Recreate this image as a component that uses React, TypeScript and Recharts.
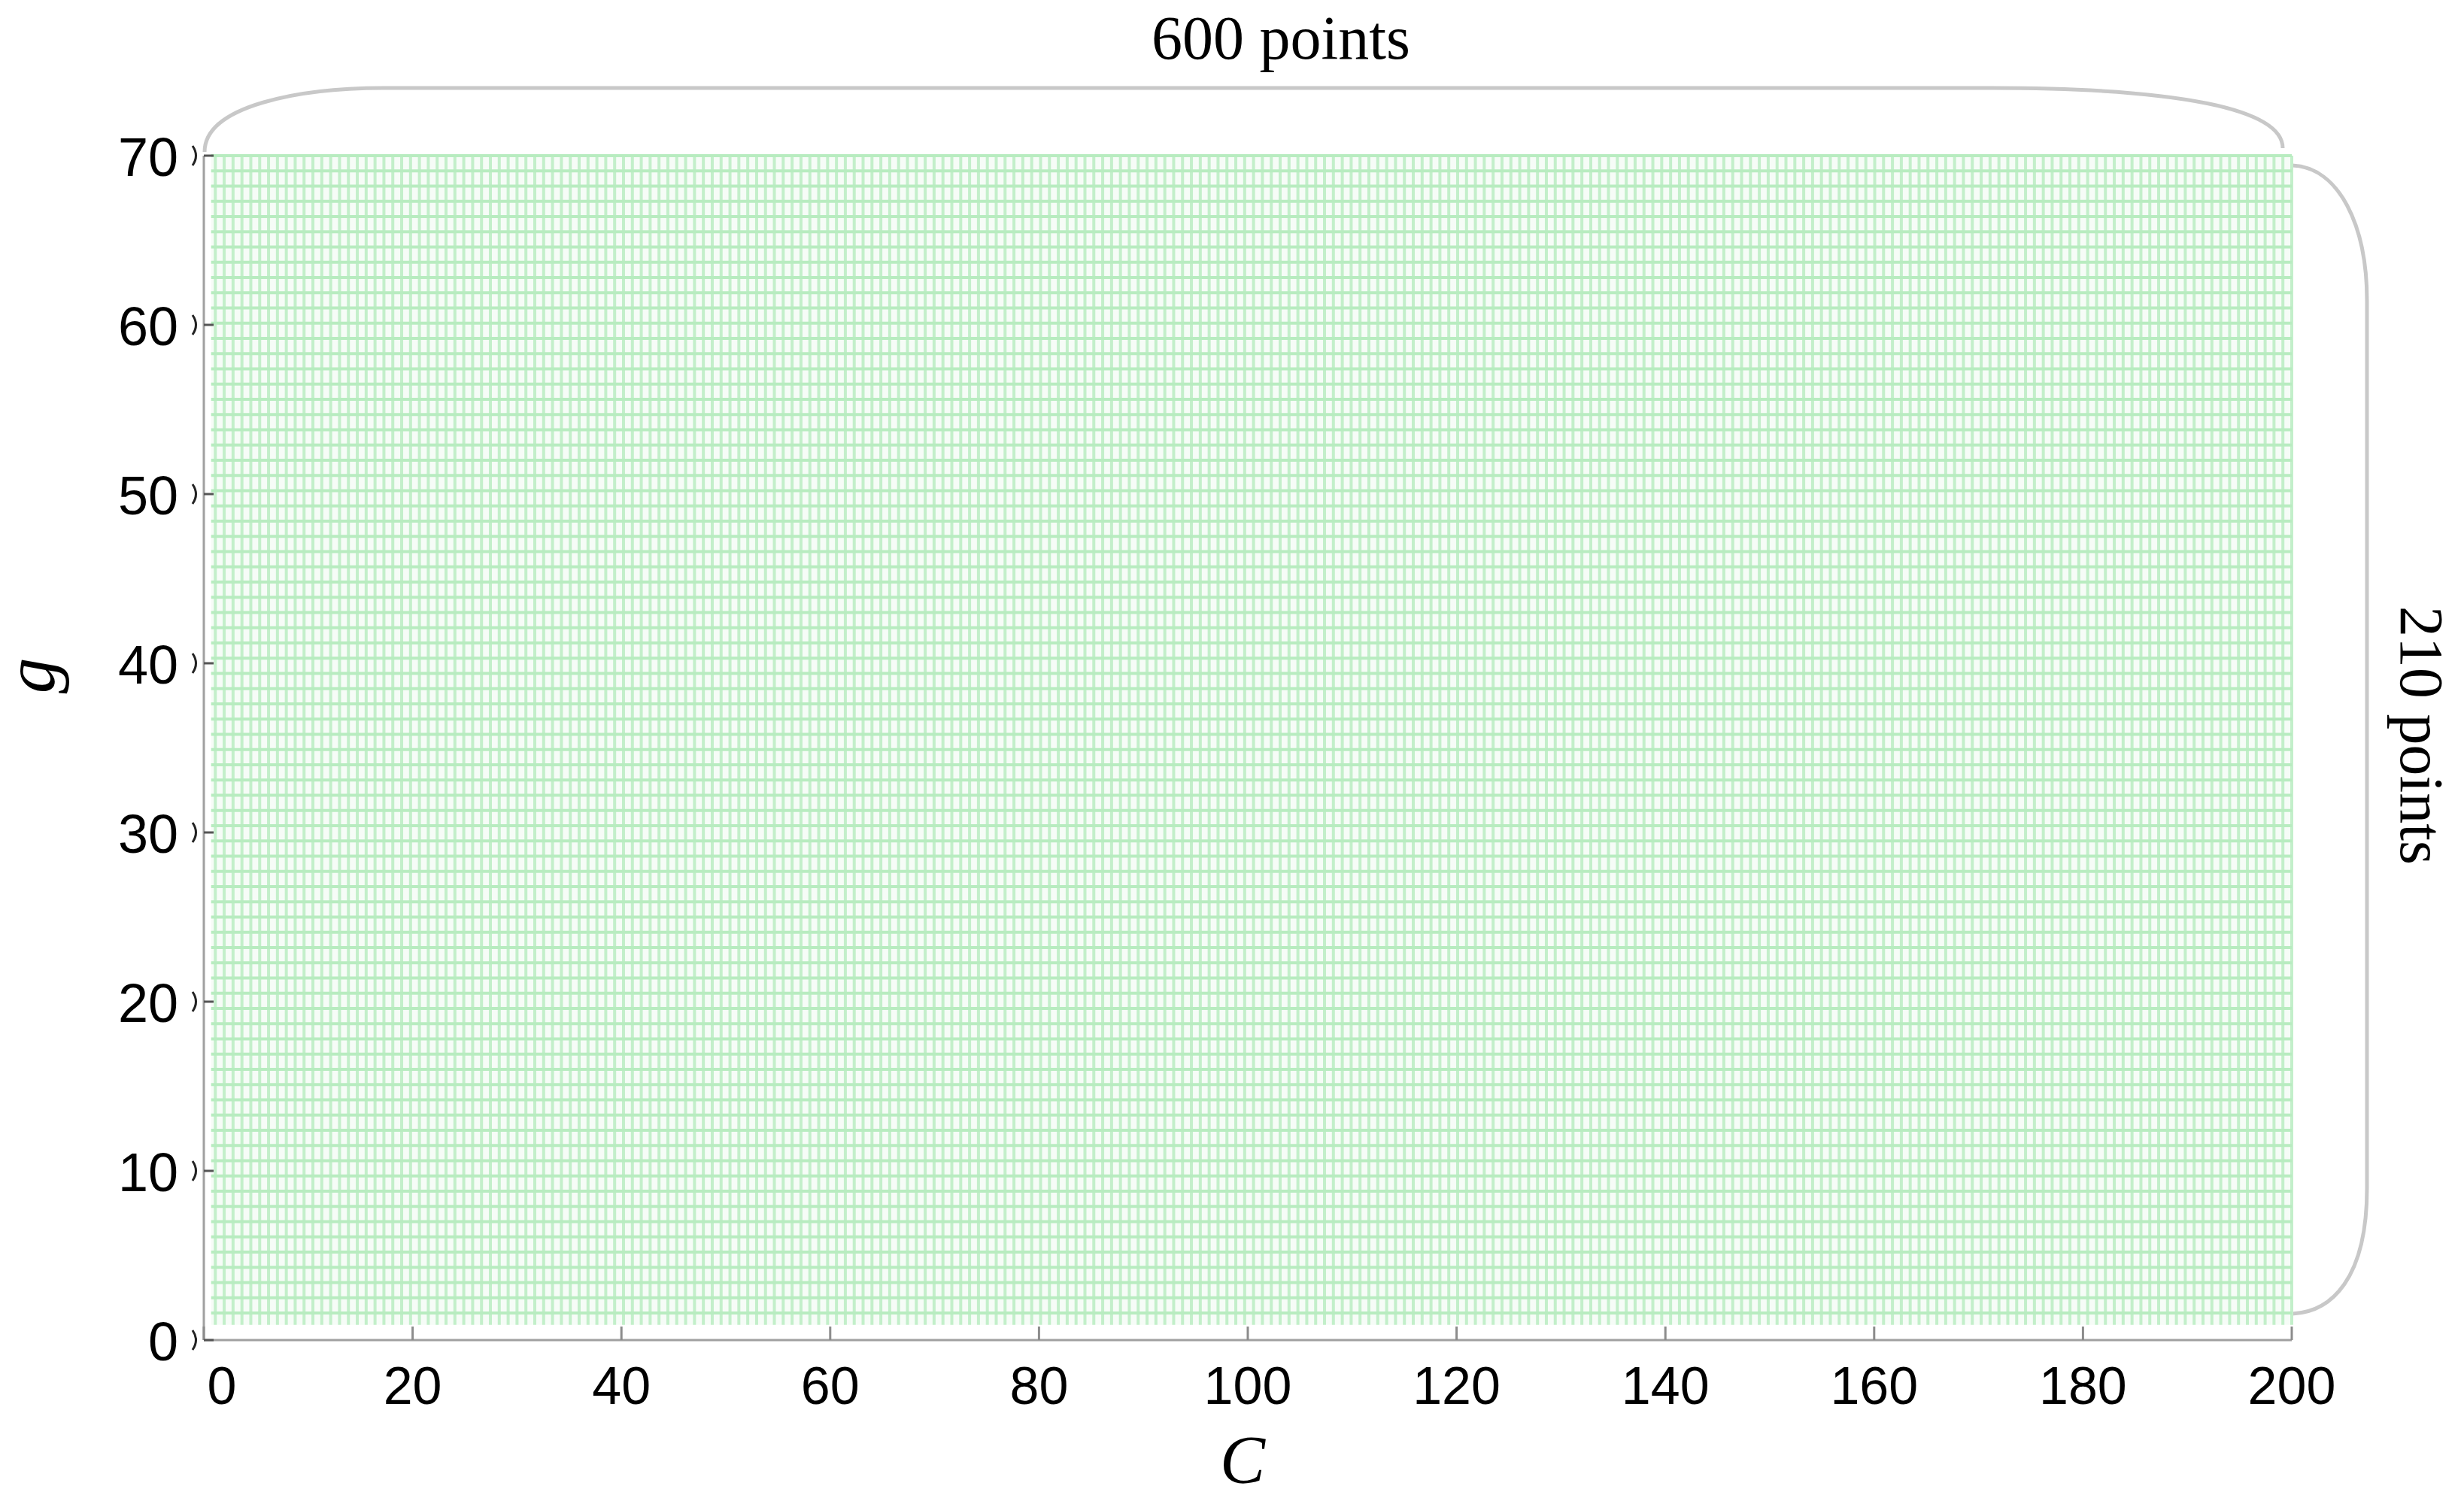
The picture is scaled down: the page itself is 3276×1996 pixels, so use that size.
import React from 'react';
import { ComposedChart, XAxis, YAxis, ReferenceLine, ReferenceArea } from 'recharts';

// Axis ticks
const cTicks = [0, 20, 40, 60, 80, 100, 120, 140, 160, 180, 200];
const gTicks = [0, 10, 20, 30, 40, 50, 60, 70];

// Parameter grid (visible grid lines of the C x g search grid)
const cMax = 200;
const gMax = 70;
const cStep = 0.85;
const gStep = 0.9;
const cGridLines = Array.from({ length: 235 }, (_, k) => +(cMax - k * cStep).toFixed(3));
const gGridLines = Array.from({ length: 77 }, (_, k) => +(gMax - k * gStep).toFixed(3));
const cGridMin = cGridLines[cGridLines.length - 1];
const gGridMin = gGridLines[gGridLines.length - 1];

// Annotation texts
const topLabel = '600 points';
const sideLabel = '210 points';
const xLabel = 'C';
const yLabel = 'g';

const W = 3260;
const H = 1980;
const SANS = 'Liberation Sans, Arial, sans-serif';
const SERIF = 'Liberation Serif, Times New Roman, serif';

const XTick = (props: any) => {
  const { x, y, payload } = props;
  const dx = payload.value === 0 ? 24 : 0;
  return (
    <g>
      <line x1={x} y1={y} x2={x} y2={y - 18} stroke="#8c8c8c" strokeWidth={3} />
      <text x={x + dx} y={y + 85} textAnchor="middle" fontSize={70} fontFamily={SANS} fill="#000">
        {payload.value}
      </text>
    </g>
  );
};

const YTick = (props: any) => {
  const { x, y, payload } = props;
  return (
    <g>
      <line x1={x} y1={y} x2={x + 13} y2={y} stroke="#555" strokeWidth={3} />
      <path d={`M ${x - 15} ${y - 13} Q ${x - 6} ${y} ${x - 15} ${y + 13}`} stroke="#222" strokeWidth={3} fill="none" />
      <text x={x - 34} y={y + 27} textAnchor="end" fontSize={72} fontFamily={SANS} fill="#000">
        {payload.value}
      </text>
    </g>
  );
};

const Braces = (props: any) => {
  const { x, y, width, height } = props;
  const x0 = x;
  const x1 = x + width;
  const yT = y;
  const yB = y + height;
  const top = `M ${x0 + 1} ${yT - 5} C ${x0 + 1} ${yT - 67} ${x0 + 129} ${yT - 90} ${x0 + 239} ${yT - 90} L ${x1 - 400} ${yT - 90} C ${x1 - 150} ${yT - 90} ${x1 - 12} ${yT - 62} ${x1 - 12} ${yT - 10}`;
  const right = `M ${x1} ${yT + 13} C ${x1 + 63} ${yT + 15} ${x1 + 100} ${yT + 93} ${x1 + 100} ${yT + 193} L ${x1 + 100} ${yB - 202} C ${x1 + 100} ${yB - 82} ${x1 + 53} ${yB - 37} ${x1} ${yB - 35}`;
  const sx = x1 + 145;
  const sy = yT + 771;
  return (
    <g>
      <path d={top} stroke="#c8c8c8" strokeWidth={5} fill="none" />
      <path d={right} stroke="#c8c8c8" strokeWidth={5} fill="none" />
      <text x={x0 + width / 2 + 44} y={yT - 129} textAnchor="middle" fontSize={82} fontFamily={SERIF} fill="#000">
        {topLabel}
      </text>
      <text x={sx} y={sy} textAnchor="middle" fontSize={82} fontFamily={SERIF} fill="#000" transform={`rotate(90, ${sx}, ${sy})`}>
        {sideLabel}
      </text>
    </g>
  );
};

const XLabel = (props: any) => {
  const { viewBox } = props;
  const cx = viewBox.x + viewBox.width / 2 - 7;
  return (
    <text x={cx} y={viewBox.y + 190} textAnchor="middle" fontSize={90} fontStyle="italic" fontFamily={SERIF} fill="#000">
      {xLabel}
    </text>
  );
};

const YLabel = (props: any) => {
  const { viewBox } = props;
  const lx = 64;
  const ly = viewBox.y + viewBox.height / 2 - 96;
  return (
    <text x={lx} y={ly} textAnchor="middle" fontSize={95} fontStyle="italic" fontFamily={SERIF} fill="#000" transform={`rotate(-90, ${lx}, ${ly})`}>
      {yLabel}
    </text>
  );
};

export default function App() {
  return (
    <div style={{ width: W, height: H, background: '#fff' }}>
      <ComposedChart width={W} height={H} data={[]} margin={{ top: 199, right: 221, left: 113, bottom: 96 }}>
        <XAxis
          type="number"
          dataKey="c"
          domain={[0, 200]}
          ticks={cTicks}
          interval={0}
          allowDataOverflow
          tickSize={0}
          tickMargin={0}
          tickLine={false}
          height={110}
          axisLine={{ stroke: '#a0a0a0', strokeWidth: 3 }}
          tick={<XTick />}
          label={{ content: <XLabel /> }}
        />
        <YAxis
          type="number"
          dataKey="g"
          domain={[0, 70]}
          ticks={gTicks}
          interval={0}
          allowDataOverflow
          tickSize={0}
          tickMargin={0}
          tickLine={false}
          width={150}
          axisLine={{ stroke: '#a0a0a0', strokeWidth: 3 }}
          tick={<YTick />}
          label={{ content: <YLabel /> }}
        />
        <ReferenceArea x1={cGridMin - 0.4} x2={cMax} y1={gGridMin - 0.7} y2={gMax} fill="#f6fcf7" fillOpacity={1} stroke="none" ifOverflow="visible" />
        {cGridLines.map((c) => (
          <ReferenceLine
            key={`c${c}`}
            segment={[{ x: c, y: gGridMin - 0.7 }, { x: c, y: gMax }]}
            stroke="#c3efca"
            strokeWidth={4}
            ifOverflow="visible"
          />
        ))}
        {gGridLines.map((g) => (
          <ReferenceLine
            key={`g${g}`}
            segment={[{ x: cGridMin - 0.4, y: g }, { x: cMax, y: g }]}
            stroke="#b8ecc0"
            strokeWidth={4}
            ifOverflow="visible"
          />
        ))}
        <ReferenceArea x1={0} x2={200} y1={0} y2={70} ifOverflow="visible" shape={(p: any) => <Braces {...p} />} />
      </ComposedChart>
    </div>
  );
}
